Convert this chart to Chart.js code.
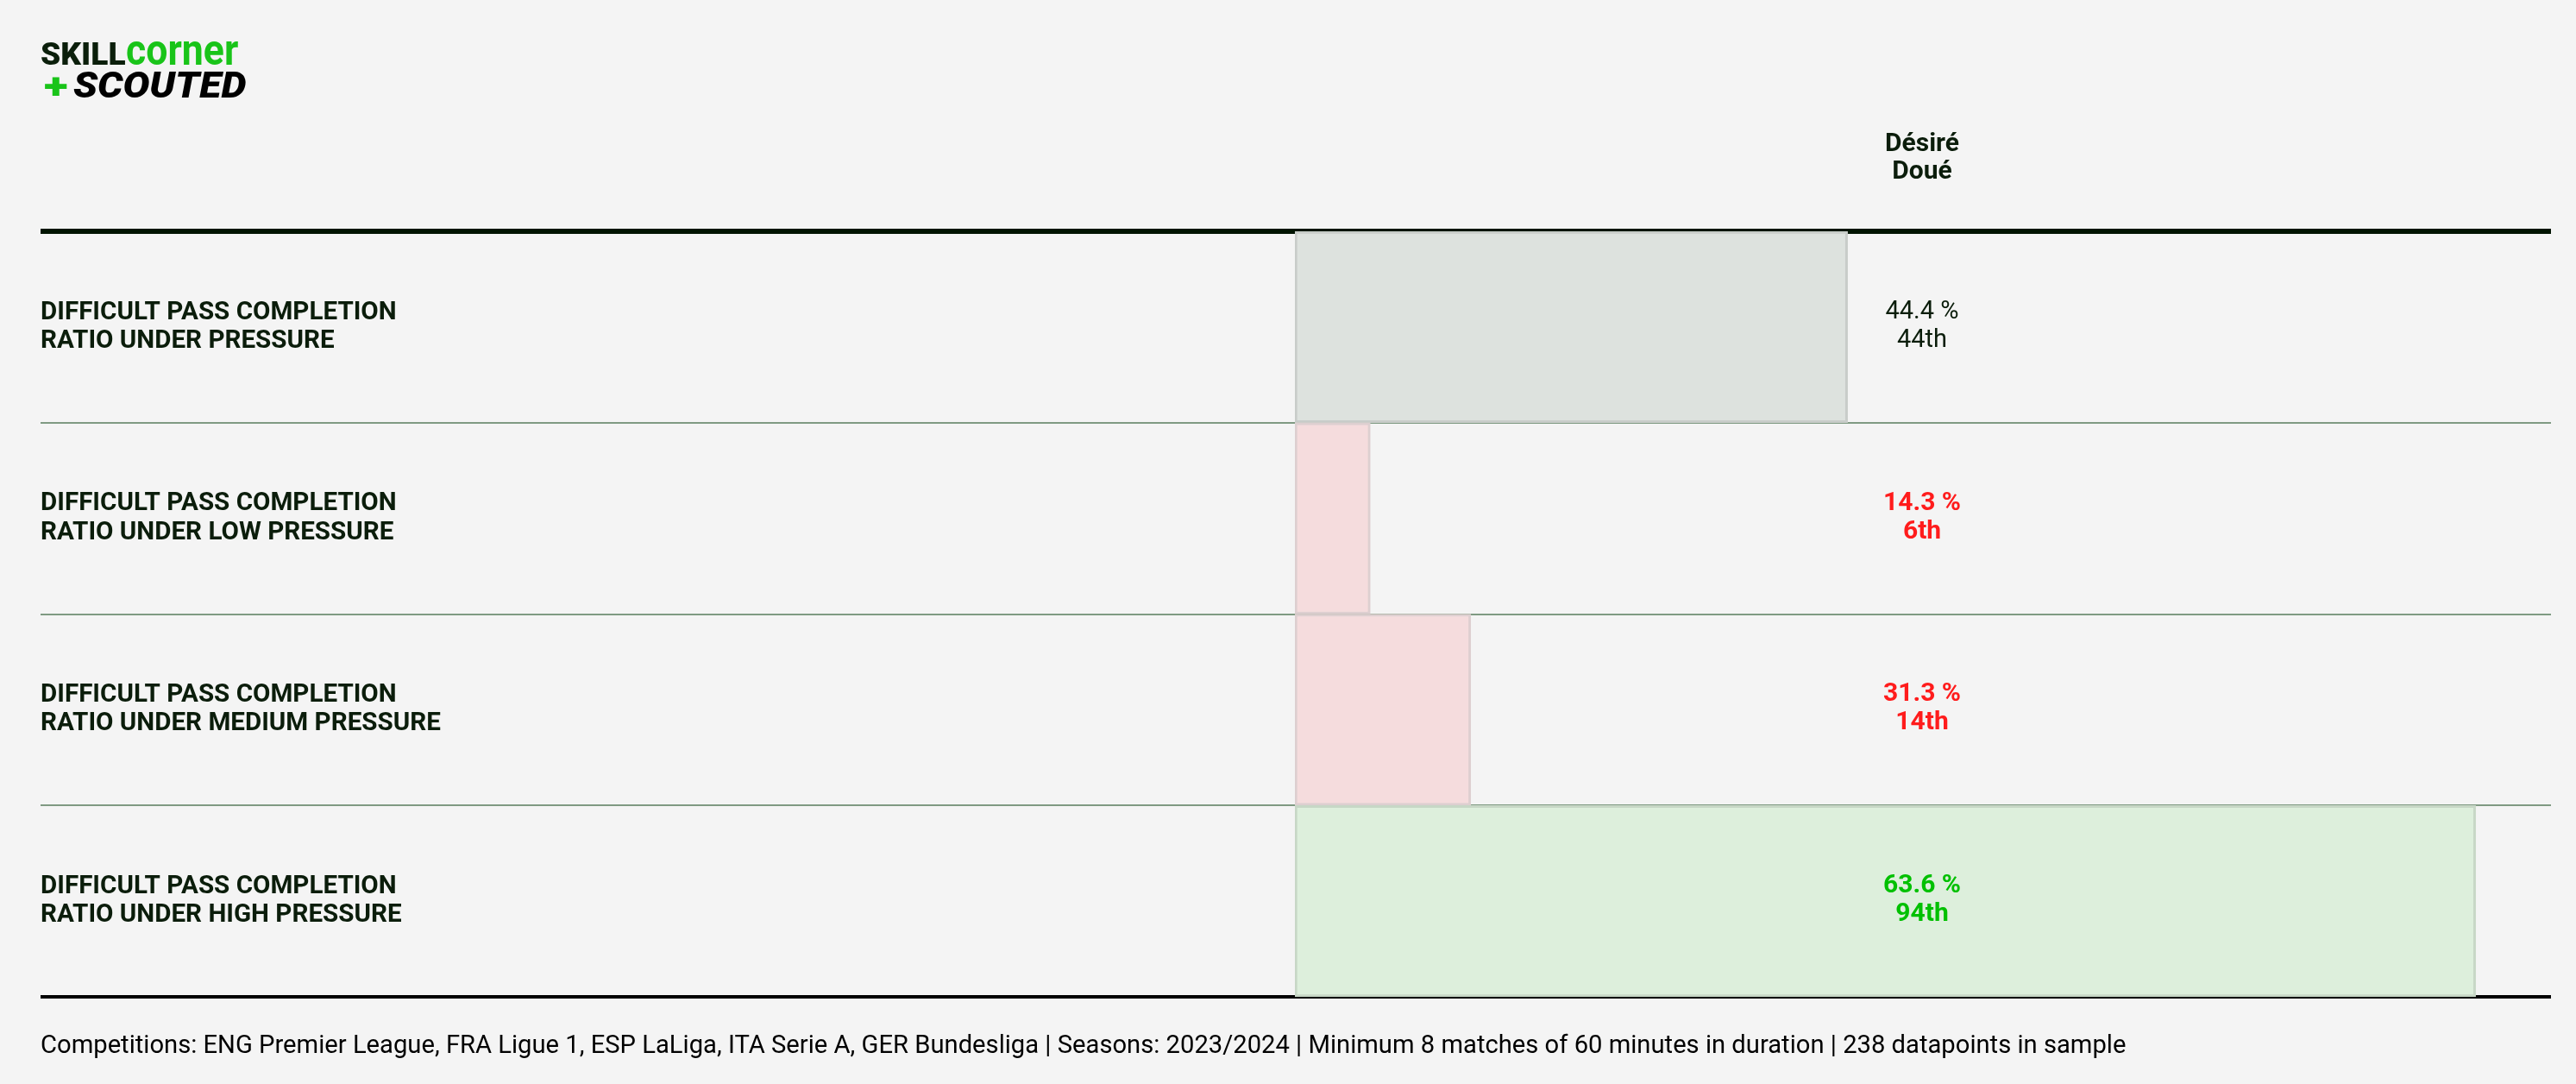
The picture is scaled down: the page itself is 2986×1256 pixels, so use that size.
<!DOCTYPE html>
<html>
<head>
<meta charset="utf-8">
<script src="https://cdn.jsdelivr.net/npm/chart.js@4.4.1/dist/chart.umd.min.js"></script>
<style>
html,body{margin:0;padding:0;background:#f4f4f4;}
#wrap{width:2986px;height:1256px;position:relative;}
</style>
</head>
<body>
<div id="wrap"><canvas id="chart"></canvas></div>
<script>
// Rows (top to bottom)
const metrics = [
  ['DIFFICULT PASS COMPLETION', 'RATIO UNDER PRESSURE'],
  ['DIFFICULT PASS COMPLETION', 'RATIO UNDER LOW PRESSURE'],
  ['DIFFICULT PASS COMPLETION', 'RATIO UNDER MEDIUM PRESSURE'],
  ['DIFFICULT PASS COMPLETION', 'RATIO UNDER HIGH PRESSURE']
];
const values = [44.4, 14.3, 31.3, 63.6];      // raw metric, %
const percentiles = [44, 6, 14, 94];          // bar length
const player = ['Désiré', 'Doué'];
const footnote = 'Competitions: ENG Premier League, FRA Ligue 1, ESP LaLiga, ITA Serie A, GER Bundesliga | Seasons: 2023/2024 | Minimum 8 matches of 60 minutes in duration | 238 datapoints in sample';

const INK = '#0b1d0b';
const tiers = {
  low:  {fill:'#f5dcdd', edge:'#ddcfd0', text:'#ff1c1c', weight:'bold', size:30},
  mid:  {fill:'#dde2de', edge:'#c8ccc9', text:INK, weight:'normal', size:29},
  high: {fill:'#ddefdc', edge:'#c7d7c6', text:'#00c000', weight:'bold', size:30}
};
const tierOf = p => p < 33 ? tiers.low : p > 66 ? tiers.high : tiers.mid;
const ordinal = n => {
  const t = n % 100;
  if (t >= 11 && t <= 13) return n + 'th';
  return n + ({1:'st',2:'nd',3:'rd'}[n % 10] || 'th');
};

const VALUE_COL = 2228;

// stretch a string so its ink fills a given box (used for the logo)
function fitBox(ctx, text, font, color, x0, y0, x1, y1) {
  ctx.save();
  ctx.font = font;
  ctx.textAlign = 'left';
  ctx.textBaseline = 'alphabetic';
  const m = ctx.measureText(text);
  const w = m.actualBoundingBoxLeft + m.actualBoundingBoxRight;
  const h = m.actualBoundingBoxAscent + m.actualBoundingBoxDescent;
  ctx.translate(x0, y0);
  ctx.scale((x1 - x0) / w, (y1 - y0) / h);
  ctx.fillStyle = color;
  ctx.fillText(text, m.actualBoundingBoxLeft, m.actualBoundingBoxAscent);
  ctx.restore();
}

const extras = {
  id: 'extras',
  afterDraw(chart) {
    const ctx = chart.ctx;
    const y = chart.scales.y;

    // logo
    fitBox(ctx, 'SKILL', '900 40px Roboto', '#0b1f0b', 48, 48, 145, 75);
    fitBox(ctx, 'corner', 'bold 50px Roboto', '#19c419', 147, 48, 276, 75);
    fitBox(ctx, '+', '900 44px Roboto', '#19c419', 51, 89, 78, 111);
    fitBox(ctx, 'SCOUTED', 'italic 900 42px Roboto', '#000000', 85, 83, 285, 113);

    ctx.save();
    // player header
    ctx.font = 'bold 30px Roboto';
    ctx.fillStyle = INK;
    ctx.textAlign = 'center';
    ctx.textBaseline = 'alphabetic';
    ctx.fillText(player[0], VALUE_COL, 175);
    ctx.fillText(player[1], VALUE_COL, 207);

    // value + percentile per row
    values.forEach((v, i) => {
      const t = tierOf(percentiles[i]);
      const cy = y.getPixelForValue(i);
      ctx.font = t.weight + ' ' + t.size + 'px Roboto';
      ctx.fillStyle = t.text;
      ctx.fillText(v.toFixed(1) + ' %', VALUE_COL, cy - 10);
      ctx.fillText(ordinal(percentiles[i]), VALUE_COL, cy + 23);
    });

    // footnote
    ctx.font = '29.2px Roboto';
    ctx.fillStyle = '#000000';
    ctx.textAlign = 'left';
    ctx.fillText(footnote, 47, 1220);
    ctx.restore();
  }
};

const LABEL_LEFT = 47;
const AXIS_W = 1454;

new Chart(document.getElementById('chart'), {
  type: 'bar',
  data: {
    labels: metrics,
    datasets: [{
      data: percentiles,
      backgroundColor: percentiles.map(p => tierOf(p).fill),
      borderColor: percentiles.map(p => tierOf(p).edge),
      borderWidth: 3,
      borderSkipped: false,
      barPercentage: 1,
      categoryPercentage: 1
    }]
  },
  options: {
    indexAxis: 'y',
    responsive: true,
    maintainAspectRatio: false,
    devicePixelRatio: 1,
    animation: false,
    layout: {padding: {left: LABEL_LEFT, right: 29, top: 268, bottom: 101}},
    plugins: {legend: {display: false}, tooltip: {enabled: false}},
    scales: {
      x: {type: 'linear', min: 0, max: 100, display: false},
      y: {
        afterFit: s => { s.width = AXIS_W; },
        border: {display: false},
        grid: {
          offset: true,
          drawTicks: true,
          tickLength: AXIS_W,
          color: c => c.index === 0 ? '#001400' : (c.index === undefined ? '#000000' : '#7f9a82'),
          lineWidth: c => c.index === 0 ? 6 : (c.index === undefined ? 4 : 2)
        },
        ticks: {
          autoSkip: false,
          crossAlign: 'far',
          color: INK,
          font: {family: 'Roboto', size: 29.6, weight: 'bold', lineHeight: 1.12}
        }
      }
    }
  },
  plugins: [extras]
});
</script>
</body>
</html>
